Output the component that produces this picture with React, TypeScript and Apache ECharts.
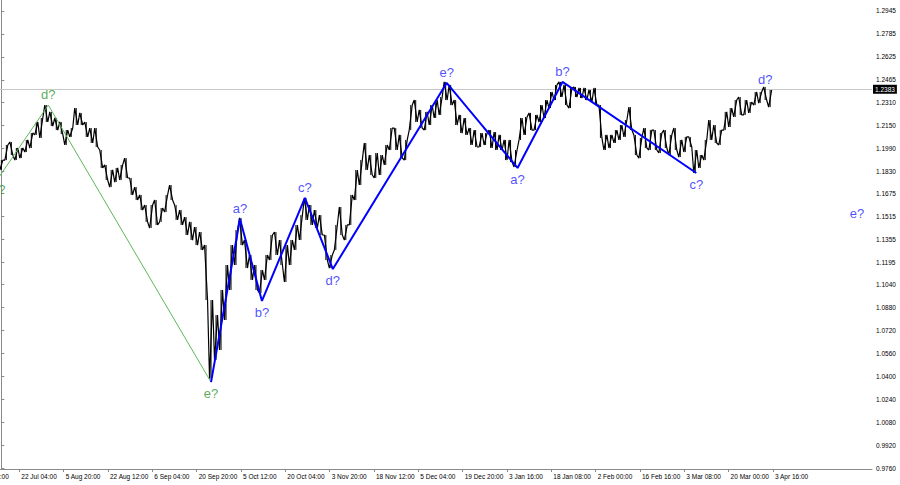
import React, { useEffect, useRef } from "react";
import * as echarts from "echarts";

// Price range per bar column (high / low)
const highs = [
  1.1907, 1.2012, 1.2033, 1.1991, 1.1991, 1.2047, 1.2095, 1.2172, 1.22, 1.229,
  1.2242, 1.22, 1.2172, 1.2116, 1.213, 1.2269, 1.2235, 1.2172, 1.213, 1.213,
  1.1977, 1.1873, 1.1838, 1.1852, 1.1873, 1.1921, 1.1782, 1.1719, 1.1664, 1.1594,
  1.1594, 1.1629, 1.1573, 1.1664, 1.1733, 1.1594, 1.1559, 1.151, 1.1476, 1.1441,
  1.1406, 1.1315, 1.0932, 1.0828, 1.1002, 1.1176, 1.1315, 1.142, 1.1504, 1.135,
  1.1246, 1.1176, 1.1141, 1.1246, 1.1385, 1.1406, 1.135, 1.1315, 1.135, 1.1455,
  1.1524, 1.1643, 1.1594, 1.1559, 1.1524, 1.1385, 1.1246, 1.1455, 1.158, 1.1455,
  1.1664, 1.1838, 1.1907, 1.2026, 1.1942, 1.1956, 1.1942, 1.2012, 1.213, 1.213,
  1.2082, 1.2047, 1.229, 1.2325, 1.2256, 1.2242, 1.229, 1.2325, 1.2346, 1.2451,
  1.243, 1.2325, 1.2221, 1.22, 1.213, 1.2116, 1.2095, 1.2095, 1.2116, 1.2102,
  1.2082, 1.2047, 1.2047, 1.1977, 1.22, 1.2207, 1.2235, 1.2221, 1.229, 1.2325,
  1.2381, 1.243, 1.2451, 1.243, 1.2409, 1.2416, 1.2409, 1.2409, 1.2395, 1.2409,
  1.229, 1.2082, 1.2082, 1.2116, 1.2151, 1.2186, 1.2276, 1.2082, 1.2061, 1.213,
  1.2116, 1.2116, 1.2095, 1.2116, 1.2082, 1.213, 1.2047, 1.2068, 1.2068, 1.1977,
  1.1942, 1.2047, 1.2186, 1.2151, 1.2116, 1.2242, 1.2269, 1.2325, 1.2346, 1.2325,
  1.2311, 1.2381, 1.2381, 1.2416, 1.2395,
];
const lows = [
  1.1838, 1.1907, 1.1942, 1.1907, 1.1921, 1.1963, 1.1991, 1.2082, 1.2061, 1.2172,
  1.2144, 1.2116, 1.2088, 1.2012, 1.2068, 1.2151, 1.2151, 1.2068, 1.2026, 1.1998,
  1.1852, 1.1768, 1.1719, 1.1754, 1.1768, 1.1782, 1.1664, 1.1629, 1.1559, 1.1476,
  1.1434, 1.1455, 1.1476, 1.1545, 1.1629, 1.149, 1.1455, 1.1385, 1.135, 1.1315,
  1.1281, 1.0932, 1.0385, 1.0515, 1.0584, 1.0793, 1.1002, 1.1176, 1.1315, 1.1155,
  1.1072, 1.1002, 1.0981, 1.1072, 1.1211, 1.1246, 1.1176, 1.1058, 1.1176, 1.1281,
  1.135, 1.149, 1.1455, 1.1434, 1.1385, 1.1211, 1.1155, 1.1281, 1.1385, 1.135,
  1.1455, 1.1629, 1.1733, 1.1838, 1.1803, 1.1782, 1.1803, 1.1873, 1.1977, 1.1977,
  1.1921, 1.1907, 1.2116, 1.2172, 1.213, 1.2116, 1.2151, 1.22, 1.2221, 1.2325,
  1.229, 1.2151, 1.2095, 1.2082, 1.2012, 1.1998, 1.1998, 1.2012, 1.1991, 1.1977,
  1.1977, 1.1907, 1.1893, 1.1859, 1.2047, 1.2082, 1.2116, 1.2116, 1.2172, 1.22,
  1.2269, 1.2325, 1.2346, 1.229, 1.2269, 1.2346, 1.2339, 1.2325, 1.2311, 1.229,
  1.2061, 1.1977, 1.1991, 1.2026, 1.2047, 1.2068, 1.2116, 1.1942, 1.1921, 1.1991,
  1.1977, 1.1977, 1.1956, 1.1991, 1.1942, 1.1977, 1.1928, 1.1963, 1.1998, 1.1817,
  1.1852, 1.1907, 1.2047, 1.2026, 1.2012, 1.2116, 1.2137, 1.2207, 1.2221, 1.2221,
  1.2235, 1.229, 1.2304, 1.2325, 1.2276,
];

const currentPrice = 1.2383;

const priceTicks = [
  1.2945, 1.2785, 1.2625, 1.2465, 1.231, 1.215, 1.199, 1.183, 1.1675, 1.1515,
  1.1355, 1.1195, 1.104, 1.088, 1.072, 1.056, 1.04, 1.024, 1.008, 0.992, 0.976,
];

const timeLabels = [
  "8 Jul 12:00", "22 Jul 04:00", "5 Aug 20:00", "22 Aug 12:00", "6 Sep 04:00",
  "20 Sep 20:00", "5 Oct 12:00", "20 Oct 04:00", "3 Nov 20:00", "18 Nov 12:00",
  "5 Dec 04:00", "19 Dec 20:00", "3 Jan 16:00", "18 Jan 08:00", "2 Feb 00:00",
  "16 Feb 16:00", "3 Mar 08:00", "20 Mar 00:00", "3 Apr 16:00",
];
const timeLabelBars = [
  -5.28, 3.6, 12.48, 21.36, 30.24, 39.12, 48.0, 56.88, 65.76, 74.64, 83.52,
  92.4, 101.28, 110.16, 119.04, 127.92, 136.8, 145.68, 154.56,
];

const greenWaveNames = ["e?", "d?", "e?"];
const greenWaveBars = [-0.6, 9.4, 42];
const greenWavePrices = [1.1782, 1.229, 1.0361];

const blueWaveNames = ["", "a?", "b?", "c?", "d?", "e?", "a?", "b?", "c?"];
const blueWaveBars = [42, 47.8, 52.2, 60.8, 66.4, 89.2, 103.4, 112.4, 139.2];
const blueWavePrices = [1.0361, 1.1497, 1.0926, 1.1643, 1.1148, 1.2444, 1.1852, 1.2451, 1.1817];

const targetNames = ["d?", "e?"];
const targetBars = [153, 171.4];
const targetPrices = [1.2395, 1.1538];

const X_MIN = -5.28;
const X_MAX = 174.4;
const Y_MIN = 0.97556;
const Y_MAX = 1.30216;

const AXIS_FONT = "Liberation Sans, Arial, sans-serif";

function buildPricePath() {
  const pts: number[][] = [];
  for (let i = 0; i < highs.length; i++) {
    const mid = (highs[i] + lows[i]) / 2;
    const nextMid = i + 1 < highs.length ? (highs[i + 1] + lows[i + 1]) / 2 : mid;
    const rising = nextMid >= mid;
    pts.push([i - 0.3, rising ? lows[i] : highs[i]]);
    pts.push([i + 0.3, rising ? highs[i] : lows[i]]);
  }
  return pts;
}

function waveLabelData(names: string[], bars: number[], prices: number[], color: string) {
  return names
    .map((name, i) => {
      if (!name) return null;
      const prev = i > 0 ? prices[i - 1] : null;
      const next = i < prices.length - 1 ? prices[i + 1] : null;
      const ref = next !== null ? next : prev;
      const isPeak = ref !== null ? prices[i] > ref : true;
      return {
        value: [bars[i], prices[i]],
        label: {
          show: true,
          formatter: name,
          position: isPeak ? "top" : "bottom",
          distance: isPeak ? 4 : 5,
          color,
          fontSize: 13,
          fontFamily: AXIS_FONT,
        },
      };
    })
    .filter(Boolean);
}

export default function App() {
  const ref = useRef<HTMLDivElement>(null);

  useEffect(() => {
    if (!ref.current) return;
    const chart = echarts.init(ref.current, undefined, { renderer: "svg" });

    const blue = "#1e1eff";
    const green = "#2f962f";

    const option: any = {
      animation: false,
      backgroundColor: "#ffffff",
      grid: { left: 0, right: 28, top: 0, bottom: 16, containLabel: false },
      xAxis: {
        type: "value",
        min: X_MIN,
        max: X_MAX,
        axisLine: { show: true, lineStyle: { color: "#8a8a8a", width: 1 } },
        axisTick: {
          show: true,
          customValues: timeLabelBars,
          length: 3,
          lineStyle: { color: "#8a8a8a" },
        },
        axisLabel: {
          show: true,
          customValues: timeLabelBars,
          formatter: (v: number) => {
            const idx = timeLabelBars.findIndex((b) => Math.abs(b - v) < 1e-6);
            return idx >= 0 ? timeLabels[idx] : "";
          },
          align: "left",
          margin: 4,
          fontSize: 6.5,
          color: "#000",
          fontFamily: AXIS_FONT,
          padding: [0, 0, 0, 2],
        },
        splitLine: { show: false },
      },
      yAxis: {
        type: "value",
        position: "right",
        min: Y_MIN,
        max: Y_MAX,
        axisLine: { show: true, lineStyle: { color: "#8a8a8a", width: 1 } },
        axisTick: {
          show: true,
          customValues: priceTicks,
          length: 3,
          lineStyle: { color: "#8a8a8a" },
        },
        axisLabel: {
          show: true,
          customValues: priceTicks,
          formatter: (v: number) => v.toFixed(4),
          margin: 4,
          fontSize: 6.5,
          color: "#000",
          fontFamily: AXIS_FONT,
        },
        splitLine: { show: false },
      },
      series: [
        {
          type: "custom",
          name: "bars",
          renderItem: (params: any, api: any) => {
            const x = api.value(0);
            const top = api.coord([x, api.value(1)]);
            const bottom = api.coord([x, api.value(2)]);
            return {
              type: "line",
              shape: { x1: top[0], y1: top[1], x2: bottom[0], y2: bottom[1] },
              style: { stroke: "#000", lineWidth: 1 },
            };
          },
          data: highs.map((h, i) => [i, h, lows[i]]),
          z: 2,
        },
        {
          type: "line",
          name: "price",
          data: buildPricePath(),
          showSymbol: false,
          symbol: "none",
          lineStyle: { color: "#000", width: 1.2 },
          z: 2,
          markLine: {
            silent: true,
            symbol: "none",
            lineStyle: { color: "#c8c8c8", type: "solid", width: 1 },
            label: {
              show: true,
              position: "end",
              formatter: currentPrice.toFixed(4),
              backgroundColor: "#000",
              color: "#fff",
              fontSize: 6.5,
              fontFamily: AXIS_FONT,
              padding: [1, 2, 1, 2],
              distance: 1,
            },
            data: [{ yAxis: currentPrice }],
            z: 1,
          },
        },
        {
          type: "line",
          name: "green wave",
          data: greenWaveBars.map((b, i) => [b, greenWavePrices[i]]),
          showSymbol: false,
          symbol: "none",
          lineStyle: { color: "#5cb85c", width: 1 },
          z: 3,
        },
        {
          type: "line",
          name: "blue wave",
          data: blueWaveBars.map((b, i) => [b, blueWavePrices[i]]),
          showSymbol: false,
          symbol: "none",
          lineStyle: { color: "#0000ff", width: 2 },
          z: 4,
        },
        {
          type: "scatter",
          name: "green labels",
          symbolSize: 0,
          data: waveLabelData(greenWaveNames, greenWaveBars, greenWavePrices, green),
          z: 5,
        },
        {
          type: "scatter",
          name: "blue labels",
          symbolSize: 0,
          data: waveLabelData(blueWaveNames, blueWaveBars, blueWavePrices, blue),
          z: 5,
        },
        {
          type: "scatter",
          name: "targets",
          symbolSize: 0,
          data: targetNames.map((name, i) => ({
            value: [targetBars[i], targetPrices[i]],
            label: {
              show: true,
              formatter: name,
              position: i === 0 ? "top" : "inside",
              distance: 4,
              color: blue,
              fontSize: 13,
              fontFamily: AXIS_FONT,
            },
          })),
          z: 5,
        },
      ],
    };

    chart.setOption(option);
    return () => chart.dispose();
  }, []);

  // The canvas is shifted left so that the first, clipped time label falls off the page
  return (
    <div
      ref={ref}
      style={{ position: "fixed", left: -26.4, top: 0, width: 926.4, height: 485, background: "#fff" }}
    />
  );
}
